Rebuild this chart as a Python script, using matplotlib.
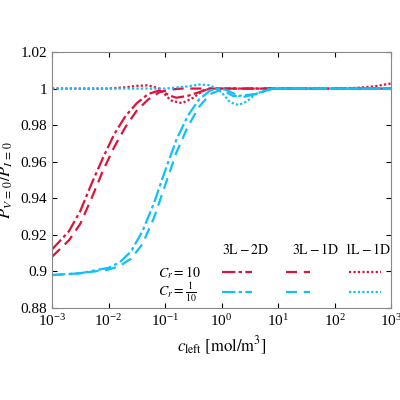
import numpy as np
import matplotlib
matplotlib.use("Agg")
import matplotlib.pyplot as plt

plt.rcParams['font.family'] = 'serif'
plt.rcParams['font.serif'] = ['Liberation Serif', 'DejaVu Serif']
plt.rcParams['mathtext.fontset'] = 'stix'
plt.rcParams['axes.formatter.use_mathtext'] = True

RED = '#dc143c'
BLUE = '#10c0f8'

# log10(c_left) and P ratio
red_32_x = [-3, -2.7, -2.5, -2.3, -2.1, -1.9, -1.7, -1.5, -1.3, -1.1, -0.9, -0.8, -0.6, -0.4, -0.2, 0, 3]
red_32_y = [0.912, 0.922, 0.933, 0.948, 0.962, 0.975, 0.985, 0.992, 0.997, 0.999, 0.996, 0.995, 0.996, 0.998, 1.0, 1.0, 1.0]
red_31_x = [-3, -2.7, -2.5, -2.3, -2.1, -1.9, -1.7, -1.5, -1.3, -1.1, -0.9, -0.7, -0.4, 3]
red_31_y = [0.908, 0.917, 0.926, 0.94, 0.955, 0.968, 0.979, 0.988, 0.994, 0.998, 0.9995, 1.0, 1.0, 1.0]
red_11_x = [-3, -2, -1.7, -1.5, -1.3, -1.1, -0.9, -0.7, -0.5, -0.3, 0, 2.0, 2.4, 2.7, 3]
red_11_y = [1.0, 1.0, 1.0007, 1.0015, 1.0018, 1.0, 0.9935, 0.992, 0.995, 0.9995, 1.0, 1.0, 1.0004, 1.0012, 1.0028]
blue_32_x = [-3, -2.5, -2, -1.8, -1.6, -1.4, -1.2, -1.0, -0.8, -0.6, -0.4, -0.2, 0, 0.1, 0.3, 0.6, 0.9, 3]
blue_32_y = [0.898, 0.899, 0.902, 0.905, 0.911, 0.922, 0.937, 0.955, 0.972, 0.985, 0.994, 0.999, 1.0, 0.999, 0.996, 0.997, 1.0, 1.0]
blue_31_x = [-3, -2.5, -2, -1.8, -1.6, -1.4, -1.2, -1.0, -0.8, -0.6, -0.4, -0.2, 0, 0.2, 0.4, 0.6, 0.9, 3]
blue_31_y = [0.898, 0.899, 0.901, 0.903, 0.907, 0.915, 0.929, 0.947, 0.965, 0.979, 0.99, 0.997, 0.9995, 0.996, 0.9955, 0.997, 1.0, 1.0]
blue_11_x = [-3, -1.0, -0.6, -0.4, -0.2, 0, 0.15, 0.3, 0.45, 0.6, 0.8, 1.0, 3]
blue_11_y = [1.0, 1.0, 1.0012, 1.0022, 1.0018, 0.998, 0.9925, 0.991, 0.993, 0.997, 0.9995, 1.0, 1.0]

yticks = [0.88, 0.9, 0.92, 0.94, 0.96, 0.98, 1, 1.02]
ytick_labels = ['0.88', '0.9', '0.92', '0.94', '0.96', '0.98', '1', '1.02']

fig = plt.figure(figsize=(4, 4), dpi=100)
ax = fig.add_axes([0.13, 0.23, 0.848, 0.64])

styles = {'32': (0, (6, 1.5, 1.5, 1.5)), '31': (0, (5, 3)), '11': (0, (1, 1))}
for xs, ys, c, k in [(red_32_x, red_32_y, RED, '32'), (red_31_x, red_31_y, RED, '31'),
                     (red_11_x, red_11_y, RED, '11'), (blue_32_x, blue_32_y, BLUE, '32'),
                     (blue_31_x, blue_31_y, BLUE, '31'), (blue_11_x, blue_11_y, BLUE, '11')]:
    ax.plot(10.0 ** np.array(xs), ys, color=c, lw=1.6, linestyle=styles[k])

ax.set_xscale('log')
ax.set_xlim(1e-3, 1e3)
ax.set_ylim(0.88, 1.02)
ax.set_yticks(yticks)
ax.set_yticklabels(ytick_labels)
ax.minorticks_off()
ax.tick_params(direction='in', top=True, right=True, labelsize=11)
for s in ax.spines.values():
    s.set_color('#888888')
ax.set_xlabel(r'$c_{\mathrm{left}}\ [\mathrm{mol/m^3}]$', fontsize=12)
ax.set_ylabel(r'$P_{V\,=\,0}/P_{I\,=\,0}$', fontsize=12)

# legend drawn by hand
for xc, t in [(0.57, r'$\mathrm{3L-2D}$'), (0.776, r'$\mathrm{3L-1D}$'), (0.93, r'$\mathrm{1L-1D}$')]:
    ax.text(xc, 0.227, t, transform=ax.transAxes, ha='center', va='center', fontsize=10)
for yr, t, c in [(0.14, r'$C_r=10$', RED), (0.063, r'$C_r=\frac{1}{10}$', BLUE)]:
    ax.text(0.313, yr, t, transform=ax.transAxes, ha='left', va='center', fontsize=10)
    for (x0, x1), k in [((0.50, 0.59), '32'), ((0.69, 0.76), '31'), ((0.876, 0.97), '11')]:
        ax.plot([x0, x1], [yr, yr], transform=ax.transAxes, color=c, lw=1.6, linestyle=styles[k])

fig.savefig('out.png', dpi=100)
